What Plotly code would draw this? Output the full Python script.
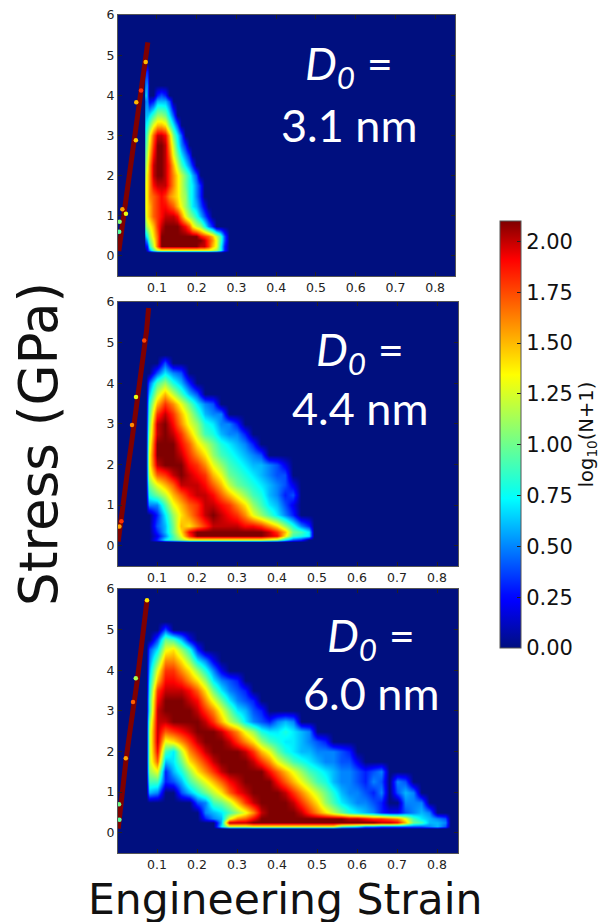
import plotly.graph_objects as go

W, H = 600, 922

# ---------- tick labels ----------
x_ticks = [0.1, 0.2, 0.3, 0.4, 0.5, 0.6, 0.7, 0.8]
y_ticks = [0, 1, 2, 3, 4, 5, 6]
cb_ticks = [0, 0.25, 0.5, 0.75, 1.0, 1.25, 1.5, 1.75, 2.0]

# ---------- density grids: log10(N+1) x 10 ----------
# rows listed top to bottom, short rows are empty (0) to the right
p1_x = [.07, .075, .08, .09, .10, .11, .12, .13, .14, .15, .16, .17, .18, .19, .20, .21, .22, .23, .24, .25, .26, .27]
p1_y = [4.6, 4.25, 4.0, 3.85, 3.5, 3.25, 3.0, 2.75, 2.5, 2.25, 2.0, 1.75, 1.5, 1.25, 1.0, .75, .5, .4, .25, .15]
p1_z = [
    [3, 3, 0],
    [5, 5, 0],
    [7, 5, 0, 0, 3, 4, 3],
    [5, 5, 2, 3, 6, 6, 6, 4],
    [6, 6, 7, 9, 11, 11, 10, 7, 4],
    [7, 8, 10, 13, 15, 15, 14, 10, 7, 4],
    [8, 10, 13, 17, 20, 20, 19, 15, 10, 7, 4],
    [9, 11, 14, 18, 21, 21, 20, 16, 12, 8, 5, 3],
    [10, 12, 15, 19, 21, 21, 20, 17, 13, 10, 7, 5, 3],
    [11, 13, 16, 20, 21, 21, 20, 18, 15, 12, 9, 7, 5, 3],
    [12, 14, 16, 20, 21, 21, 20, 18, 16, 14, 12, 10, 8, 6, 4],
    [13, 14, 16, 19, 20, 20, 20, 18, 16, 14, 12, 10, 8, 7, 5, 3],
    [13, 14, 16, 17, 18, 19, 18, 16, 15, 14, 12, 11, 8, 7, 5, 3],
    [13, 14, 15, 17, 18, 19, 19, 18, 17, 15, 13, 11, 9, 7, 6, 4, 2],
    [12, 14, 15, 17, 18, 19, 20, 20, 20, 19, 16, 13, 11, 10, 8, 6, 4, 2],
    [10, 12, 13, 15, 18, 20, 21, 21, 21, 21, 20, 19, 17, 14, 12, 11, 8, 5, 3],
    [6, 8, 11, 14, 17, 21, 21, 21, 21, 21, 21, 21, 21, 21, 21, 19, 18, 17, 15, 12, 9, 4],
    [4, 6, 10, 13, 17, 21, 21, 21, 21, 21, 21, 21, 21, 21, 21, 21, 20, 18, 16, 13, 9, 4],
    [2, 3, 8, 12, 17, 21, 21, 21, 21, 21, 21, 21, 21, 21, 21, 20, 20, 18, 15, 13, 8, 3],
    [0, 2, 5, 9, 12, 13, 13, 13, 13, 13, 13, 13, 13, 13, 13, 13, 13, 13, 12, 11, 8, 3],
]

p2_x = [.08, .10, .12, .14, .16, .18, .20, .22, .24, .26, .28, .30, .32, .34, .36, .38, .40, .42, .44, .46, .48]
p2_y = [4.5, 4.25, 4.0, 3.75, 3.5, 3.25, 3.0, 2.75, 2.5, 2.25, 2.0, 1.75, 1.5, 1.25, 1.0, .75, .5, .35, .25, .15]
p2_z = [
    [0, 0, 4],
    [0, 4, 7, 5, 4],
    [4, 9, 11, 8, 6, 3],
    [6, 12, 15, 12, 9, 6, 4],
    [8, 15, 18, 16, 13, 10, 7, 5, 4],
    [9, 18, 20, 18, 15, 12, 9, 6, 5, 5],
    [10, 20, 21, 19, 16, 13, 11, 8, 7, 5, 5, 3],
    [11, 20, 21, 20, 18, 15, 12, 9, 8, 6, 5, 5, 3],
    [12, 21, 21, 21, 19, 17, 14, 12, 10, 8, 7, 6, 5, 3],
    [13, 21, 21, 21, 20, 18, 16, 14, 11, 9, 8, 7, 6, 5, 4],
    [13, 20, 21, 21, 21, 19, 18, 16, 13, 11, 9, 8, 7, 6, 6, 5, 4, 2],
    [12, 17, 18, 20, 21, 20, 19, 18, 15, 13, 10, 9, 8, 7, 6, 5, 4, 4],
    [10, 13, 15, 17, 20, 20, 20, 19, 17, 15, 12, 10, 9, 8, 7, 6, 5, 4, 2],
    [8, 10, 12, 15, 17, 19, 20, 20, 19, 17, 15, 13, 11, 9, 8, 6, 5, 3, 4],
    [5, 5, 9, 13, 15, 17, 18, 20, 20, 19, 18, 16, 14, 11, 9, 7, 6, 4, 2],
    [0, 3, 7, 11, 14, 16, 18, 20, 21, 20, 19, 18, 16, 13, 11, 9, 7, 5, 3],
    [0, 4, 6, 10, 15, 14, 16, 18, 20, 20, 20, 20, 19, 19, 18, 16, 14, 11, 8, 5, 3],
    [0, 3, 6, 10, 14, 19, 21, 21, 21, 21, 21, 21, 21, 21, 21, 20, 18, 15, 10, 9, 7],
    [0, 2, 5, 9, 13, 18, 21, 21, 21, 21, 21, 21, 21, 21, 21, 20, 19, 14, 9, 8, 7],
    [0, 3, 7, 9, 11, 13, 13, 13, 13, 13, 13, 13, 13, 13, 13, 12, 11, 7, 4, 3, 0],
]

p3_x = [.08, .10, .12, .14, .16, .18, .20, .22, .24, .26, .28, .30, .32, .34, .36, .38, .40, .42, .44,
        .46, .48, .50, .52, .54, .56, .58, .60, .62, .64, .66, .68, .70, .72, .74, .76, .78, .80, .82]
p3_y = [5.0, 4.75, 4.5, 4.25, 4.0, 3.75, 3.5, 3.25, 3.0, 2.75, 2.5, 2.25, 2.0, 1.75, 1.5, 1.25, 1.0, .75, .5, .35, .25, .15]
p3_z = [
    [0, 0, 4],
    [0, 4, 10, 9, 6, 2],
    [4, 7, 13, 14, 11, 8, 3],
    [5, 10, 16, 16, 14, 11, 7, 5, 2],
    [6, 13, 18, 18, 16, 14, 11, 8, 5, 2],
    [7, 15, 19, 19, 18, 16, 14, 11, 7, 5, 4, 3],
    [8, 18, 20, 20, 20, 19, 17, 14, 10, 7, 5, 4, 3],
    [9, 19, 21, 21, 21, 20, 19, 16, 13, 10, 7, 5, 4, 3],
    [9, 20, 21, 21, 21, 21, 20, 18, 16, 13, 10, 7, 6, 4, 3],
    [11, 20, 20, 21, 21, 21, 21, 20, 18, 15, 12, 10, 7, 5, 4, 3, 5, 6, 5],
    [12, 20, 17, 18, 19, 20, 21, 21, 21, 20, 18, 16, 13, 11, 8, 7, 7, 8, 7, 6, 5],
    [12, 20, 13, 14, 16, 18, 20, 21, 21, 21, 20, 18, 16, 14, 11, 9, 8, 7, 7, 6, 5, 4, 3],
    [12, 19, 9, 7, 12, 16, 18, 20, 21, 21, 21, 21, 20, 18, 15, 13, 10, 8, 7, 6, 6, 5, 5, 5, 4, 3],
    [12, 17, 6, 7, 10, 14, 16, 18, 20, 21, 21, 21, 21, 20, 18, 16, 13, 11, 9, 8, 7, 6, 5, 5, 4, 4, 2],
    [11, 13, 3, 6, 8, 11, 14, 16, 18, 20, 21, 21, 21, 21, 21, 19, 17, 15, 13, 11, 9, 8, 7, 6, 5, 5, 4, 3, 4, 5],
    [9, 9, 3, 4, 6, 9, 11, 13, 15, 17, 19, 20, 21, 21, 21, 21, 19, 17, 15, 13, 11, 9, 8, 6, 5, 5, 4, 3, 5, 4, 0, 5, 4],
    [6, 5, 0, 0, 4, 6, 8, 10, 12, 14, 17, 19, 20, 21, 21, 21, 21, 20, 18, 16, 14, 12, 10, 8, 6, 5, 5, 4, 3, 5, 0, 4, 6, 5],
    [0, 0, 0, 0, 0, 0, 4, 5, 9, 10, 12, 15, 18, 20, 21, 21, 21, 21, 20, 18, 16, 14, 11, 9, 7, 6, 5, 5, 4, 3, 0, 0, 5, 5, 5],
    [0, 0, 0, 0, 0, 0, 0, 5, 6, 7, 9, 11, 13, 16, 20, 21, 21, 21, 21, 20, 18, 16, 14, 12, 10, 8, 7, 6, 5, 3, 2, 2, 4, 5, 6, 5],
    [0, 0, 0, 0, 0, 0, 0, 3, 5, 6, 13, 16, 17, 19, 21, 21, 21, 21, 21, 21, 21, 21, 21, 21, 21, 20, 20, 19, 18, 18, 17, 16, 13, 9, 7, 6, 5, 4],
    [0, 0, 0, 0, 0, 0, 0, 0, 0, 6, 20, 20, 20, 21, 21, 21, 21, 21, 21, 21, 21, 21, 21, 21, 21, 21, 21, 21, 21, 20, 20, 19, 15, 10, 9, 6, 6, 5],
    [0, 0, 0, 0, 0, 0, 0, 0, 0, 7, 12, 12, 12, 13, 13, 13, 13, 13, 13, 13, 13, 13, 13, 13, 9, 8, 7, 5, 5, 4, 4, 4, 4, 4, 4, 5, 6, 4],
]

# ---------- elastic branch (strain, stress) ----------
p1_line_x = [.004, .013, .022, .032, .042, .052, .062, .071, .077]
p1_line_y = [.12, .75, 1.42, 2.12, 2.85, 3.57, 4.27, 4.95, 5.32]
p2_line_x = [.003, .012, .025, .036, .046, .056, .066, .074, .079]
p2_line_y = [.10, .85, 1.74, 2.50, 3.20, 3.95, 4.65, 5.30, 5.85]
p3_line_x = [.003, .012, .023, .031, .040, .050, .060, .068, .075]
p3_line_y = [.10, .95, 1.83, 2.40, 2.95, 3.70, 4.50, 5.10, 5.72]

# scattered low-count cells on the elastic branch (strain, stress, log10(N+1))
p1_pt_x = [.047, .0717, .013, .022, .005, .006, .060, .048]
p1_pt_y = [2.88, 4.83, 1.16, 1.05, .60, .85, 4.12, 3.83]
p1_pt_v = [1.45, 1.5, 1.55, 1.3, .95, 1.05, 1.8, 1.5]
p2_pt_x = [.0475, .0375, .006, .011, .068]
p2_pt_y = [3.66, 2.97, .47, .60, 5.05]
p2_pt_v = [1.3, 1.6, 1.55, 1.8, 1.75]
p3_pt_x = [.047, .022, .040, .075, .005, .006]
p3_pt_y = [3.80, 1.83, 3.22, 5.72, .70, .32]
p3_pt_v = [1.15, 1.55, 1.7, 1.4, 1.0, .95]

# ---------- labels ----------
panel_sizes = ["3.1 nm", "4.4 nm", "6.0 nm"]
x_title = "Engineering Strain"
y_title = "Stress (GPa)"
cb_title = "log<sub>10</sub>(N+1)"
# -------------------------------------------------

BG = "rgb(0,15,127)"
jet = [[0, BG], [.11, "rgb(0,0,255)"], [.125, "rgb(0,10,255)"], [.35, "rgb(0,255,255)"],
       [.375, "rgb(20,255,228)"], [.64, "rgb(255,255,0)"], [.91, "rgb(255,0,0)"], [1, "rgb(127,0,0)"]]

panels = [
    dict(box=(118, 455, 15, 276), xr=(.002, .85), x=p1_x, y=p1_y, z=p1_z, lx=p1_line_x, ly=p1_line_y,
         px=p1_pt_x, py=p1_pt_y, pv=p1_pt_v, cx=349, cy=(66, 125), x0=.067),
    dict(box=(118, 458, 302, 566), xr=(.0025, .8525), x=p2_x, y=p2_y, z=p2_z, lx=p2_line_x, ly=p2_line_y,
         px=p2_pt_x, py=p2_pt_y, pv=p2_pt_v, cx=360, cy=(352, 408), x0=.073),
    dict(box=(118, 458, 589, 853), xr=(.0025, .8525), x=p3_x, y=p3_y, z=p3_z, lx=p3_line_x, ly=p3_line_y,
         px=p3_pt_x, py=p3_pt_y, pv=p3_pt_v, cx=371, cy=(638, 693), x0=.072),
]

fig = go.Figure()
annots = []


def note(text, px, py, size, color="white", family="Lato", angle=0):
    annots.append(dict(text=text, x=px / W, y=1 - py / H, xref="paper", yref="paper", showarrow=False,
                       xanchor="center", yanchor="middle", textangle=angle,
                       font=dict(size=size, color=color, family=family)))


for i, p in enumerate(panels):
    xa = "x" if i == 0 else f"x{i + 1}"
    ya = "y" if i == 0 else f"y{i + 1}"
    ncol = len(p["x"])
    grid_x = [p["x0"]] + p["x"] + [p["x"][-1] + .012]
    rows = [[0] + [v / 10 for v in r] + [0] * (ncol - len(r) + 1) for r in p["z"]]
    blank = [0] * (ncol + 2)
    grid_y = [p["y"][0] + .2] + p["y"] + [.1]
    grid_z = [blank] + rows + [blank]
    fig.add_trace(go.Heatmap(x=grid_x, y=grid_y, z=grid_z, coloraxis="coloraxis", zsmooth="best",
                             xaxis=xa, yaxis=ya, hoverinfo="skip"))
    fig.add_trace(go.Scatter(x=p["lx"], y=p["ly"], mode="lines", line=dict(color="rgb(127,0,0)", width=5),
                             xaxis=xa, yaxis=ya, showlegend=False, hoverinfo="skip"))
    fig.add_trace(go.Scatter(x=p["px"], y=p["py"], mode="markers",
                             marker=dict(size=4.5, color=p["pv"], coloraxis="coloraxis"),
                             xaxis=xa, yaxis=ya, showlegend=False, hoverinfo="skip"))
    l, r, t, b = p["box"]
    common = dict(showline=True, linecolor="#555", linewidth=1, mirror="ticks", ticks="inside", ticklen=4,
                  tickcolor="#222", tickwidth=1, showgrid=False, zeroline=False,
                  tickfont=dict(family="DejaVu Sans", size=12.5, color="#222"))
    fig.update_layout({
        ("xaxis" if i == 0 else f"xaxis{i + 1}"): dict(domain=[l / W, r / W], range=list(p["xr"]), tickvals=x_ticks,
                                                       ticktext=[f"{v:.1f}" for v in x_ticks], anchor=ya, **common),
        ("yaxis" if i == 0 else f"yaxis{i + 1}"): dict(domain=[1 - b / H, 1 - t / H], range=[-.5, 6], tickvals=y_ticks,
                                                       anchor=xa, **common),
    })
    note("<i>D</i><sub><i>0</i></sub> =", p["cx"], p["cy"][0], 45)
    note(panel_sizes[i], p["cx"], p["cy"][1], 45)

note(x_title, 285, 899, 42.5, color="#111", family="DejaVu Sans")
note(y_title, 38, 444, 53, color="#111", family="DejaVu Sans", angle=-90)

fig.update_layout(
    width=W, height=H, margin=dict(l=0, r=0, t=0, b=0, autoexpand=False), paper_bgcolor="white", plot_bgcolor=BG,
    showlegend=False, annotations=annots,
    coloraxis=dict(
        cmin=0, cmax=2.1, colorscale=jet,
        colorbar=dict(
            thickness=21, thicknessmode="pixels", len=427, lenmode="pixels", x=500 / W, xanchor="left",
            y=1 - 648 / H, yanchor="bottom", outlinecolor="#555", outlinewidth=1, ticks="inside", ticklen=4,
            tickcolor="#222", tickvals=cb_ticks, ticktext=[f"{v:.2f}" for v in cb_ticks],
            tickfont=dict(family="DejaVu Sans", size=21, color="#111"),
            title=dict(text=cb_title, side="right", font=dict(family="DejaVu Sans", size=19.5, color="#111")),
            xpad=0, ypad=0,
        ),
    ),
)

fig.write_html("out.html", config=dict(displayModeBar=False), post_script="document.body.style.margin='0';")
